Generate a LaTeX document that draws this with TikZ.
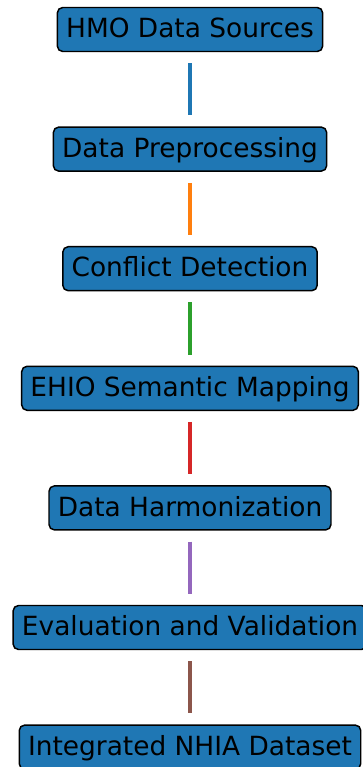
\documentclass[tikz,border=0pt]{standalone}
\usepackage{fontspec}
\newfontfamily\dejavu{DejaVu Sans}
\definecolor{tabblue}{HTML}{1F77B4}
\definecolor{taborange}{HTML}{FF7F0E}
\definecolor{tabgreen}{HTML}{2CA02C}
\definecolor{tabred}{HTML}{D62728}
\definecolor{tabpurple}{HTML}{9467BD}
\definecolor{tabbrown}{HTML}{8C564B}
\begin{document}
\begin{tikzpicture}[x=0.75pt, y=-0.75pt,
  font=\dejavu\fontsize{19.8}{23}\selectfont,
  stage/.style={draw=black, fill=tabblue, line width=1.1pt, rounded corners=4pt,
    inner xsep=6.6pt, inner ysep=0pt, minimum height=33pt,
    text height=16pt, text depth=3.7pt},
  link/.style={line width=2.3pt, shorten <=8.2pt, shorten >=8.2pt}]
\useasboundingbox (0,0) rectangle (363,767);
\foreach \txt [count=\k] in {HMO Data Sources, Data Preprocessing, Conflict Detection,
    EHIO Semantic Mapping, Data Harmonization, Evaluation and Validation,
    Integrated NHIA Dataset}
  \node[stage] (s\k) at (190,{29.5+119.6*(\k-1)}) {\txt};
\foreach \c [count=\k, evaluate=\k as \n using int(\k+1)] in
    {tabblue,taborange,tabgreen,tabred,tabpurple,tabbrown}
  \draw[link, \c] (s\k.south) -- (s\n.north);
\end{tikzpicture}
\end{document}
